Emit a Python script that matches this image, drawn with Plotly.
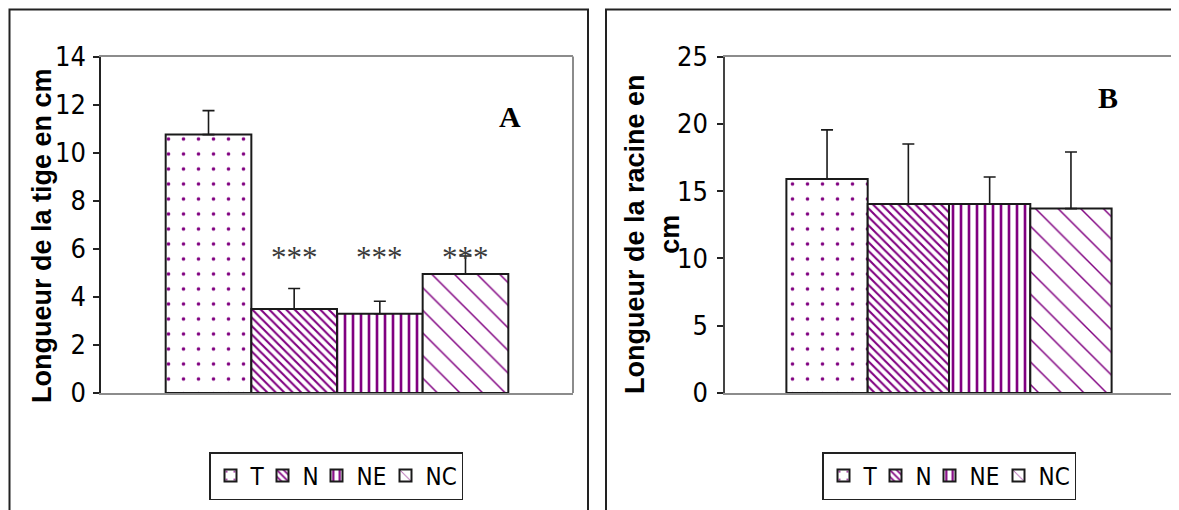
import plotly.graph_objects as go

# ---------------- data ----------------
groups = ["T", "N", "NE", "NC"]
tige_mean = [10.75, 3.5, 3.3, 4.95]
tige_err = [1.0, 0.85, 0.52, 0.75]
tige_signif = ["", "***", "***", "***"]
racine_mean = [15.9, 14.05, 14.05, 13.7]
racine_err = [3.65, 4.45, 2.0, 4.2]
tige_ticks = [0, 2, 4, 6, 8, 10, 12, 14]
racine_ticks = [0, 5, 10, 15, 20, 25]
tige_title = "Longueur de la tige en cm"
racine_title = "Longueur de la racine en<br>cm"

PURPLE = "#800080"
patterns = {
    "T": dict(shape=".", size=15, solidity=0.045),
    "N": dict(shape="\\", size=6, solidity=0.35),
    "NE": dict(shape="|", size=8, solidity=0.33),
    "NC": dict(shape="\\", size=16, solidity=0.09),
}
legend_entry_width = {"T": 7, "N": 9, "NE": 24, "NC": 31}

NARROW = "Liberation Sans Narrow, Arial Narrow, DejaVu Sans Condensed, sans-serif"
SANS = "Liberation Sans, Arial, sans-serif"
SERIF = "Liberation Serif, Times New Roman, serif"

W, H = 1179, 510
OFF = 8  # page offset of the figure inside the browser window


def px_x(p):
    return (p - OFF) / W


def px_y(p):
    return (H - (p - OFF)) / H


fig = go.Figure()

for panel, means, errs, xa, ya, leg in [
    ("A", tige_mean, tige_err, "x", "y", "legend"),
    ("B", racine_mean, racine_err, "x2", "y2", "legend2"),
]:
    for g, m, e in zip(groups, means, errs):
        pat = patterns[g]
        fig.add_trace(go.Bar(
            x=[g], y=[m], name=g, width=1,
            xaxis=xa, yaxis=ya, legend=leg,
            legendwidth=legend_entry_width[g],
            marker=dict(
                color="white",
                line=dict(color="#1a1a1a", width=2),
                pattern=dict(shape=pat["shape"], size=pat["size"],
                             solidity=pat["solidity"], fgcolor=PURPLE,
                             bgcolor="white", fgopacity=1, fillmode="replace"),
            ),
            error_y=dict(type="data", symmetric=False, array=[e], arrayminus=[0],
                         color="#1a1a1a", thickness=1.6, width=6),
            hoverinfo="skip",
        ))

xr = [-1.255, 4.255]
axis_common = dict(showgrid=False, zeroline=False, automargin=False)
leg_common = dict(orientation="h", xanchor="center", yanchor="middle",
                  bordercolor="#222", borderwidth=1.5, bgcolor="white",
                  font=dict(family=NARROW, size=24, color="black"),
                  itemwidth=30, tracegroupgap=0)

fig.update_layout(
    width=W, height=H,
    margin=dict(l=0, r=0, t=0, b=0, autoexpand=False),
    paper_bgcolor="white", plot_bgcolor="white",
    barmode="overlay",
    showlegend=True,
    xaxis=dict(domain=[px_x(101), px_x(573)], anchor="y", range=xr,
               categoryorder="array", categoryarray=groups,
               showticklabels=False, ticks="", showline=True,
               linecolor="#8c8c8c", linewidth=2, mirror=True,
               layer="below traces", **axis_common),
    yaxis=dict(domain=[px_y(393), px_y(56.5)], anchor="x", range=[0, 14],
               tickvals=tige_ticks, ticks="outside", ticklen=6,
               tickcolor="#222", tickwidth=1.5, showline=True,
               linecolor="#222", linewidth=1.5,
               tickfont=dict(family=NARROW, size=27, color="black"),
               ticklabelstandoff=2, **axis_common),
    xaxis2=dict(domain=[px_x(725), px_x(1173)], anchor="y2", range=xr,
                categoryorder="array", categoryarray=groups,
                showticklabels=False, ticks="", showline=True,
                linecolor="#8c8c8c", linewidth=2, mirror=True,
                layer="below traces", **axis_common),
    yaxis2=dict(domain=[px_y(393), px_y(56.5)], anchor="x2", range=[0, 25],
                tickvals=racine_ticks, ticks="outside", ticklen=6,
                tickcolor="#222", tickwidth=1.5, showline=True,
                linecolor="#444", linewidth=1.5,
                tickfont=dict(family=NARROW, size=27, color="black"),
                ticklabelstandoff=4, **axis_common),
    legend=dict(x=px_x(336), y=px_y(476), **leg_common),
    legend2=dict(x=px_x(949), y=px_y(476), **leg_common),
)

center = dict(xanchor="center", yanchor="middle", showarrow=False)

# y-axis titles (rotated text)
fig.add_annotation(x=px_x(42), y=px_y(236), xref="paper", yref="paper",
                   text=tige_title, textangle=-90, **center,
                   font=dict(family=SANS, size=27, color="black", weight="bold"))
fig.add_annotation(x=px_x(652), y=px_y(234), xref="paper", yref="paper",
                   text=racine_title, textangle=-90, **center,
                   font=dict(family=SANS, size=27, color="black", weight="bold"))

# significance stars above the A bars
for g, s in zip(groups, tige_signif):
    if s:
        fig.add_annotation(x=g, y=5.75, xref="x", yref="y", text=s,
                           yshift=-3, **center,
                           font=dict(family=SERIF, size=31, color="#3a3a3a"))

# panel letters
fig.add_annotation(x=0.8665, y=0.823, xref="x domain", yref="y domain", text="<b>A</b>",
                   **center, font=dict(family=SERIF, size=30, color="black"))
fig.add_annotation(x=0.855, y=0.877, xref="x2 domain", yref="y2 domain", text="<b>B</b>",
                   **center, font=dict(family=SERIF, size=30, color="black"))

# right-hand grey edges of plot areas
for xd, yd in [("x domain", "y domain"), ("x2 domain", "y2 domain")]:
    fig.add_shape(type="line", xref=xd, yref=yd, x0=1, x1=1, y0=0, y1=1,
                  line=dict(color="#8c8c8c", width=2))

# outer frames of the two panels
fig.add_shape(type="rect", xref="paper", yref="paper",
              x0=1.5 / W, x1=px_x(588), y0=-0.1, y1=1 - 1.5 / H,
              line=dict(color="#222", width=2), layer="below")
fig.add_shape(type="rect", xref="paper", yref="paper",
              x0=px_x(606), x1=1.1, y0=-0.1, y1=1 - 1.5 / H,
              line=dict(color="#222", width=2), layer="below")

fig.write_html("out.html")
